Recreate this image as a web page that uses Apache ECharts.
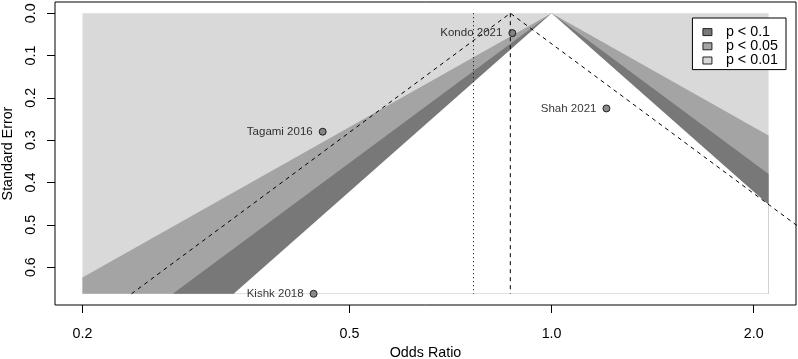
<!DOCTYPE html>
<html>
<head>
<meta charset="utf-8">
<script src="https://cdn.jsdelivr.net/npm/echarts@6/dist/echarts.min.js"></script>
<style>
  html, body { margin: 0; padding: 0; background: #fff; }
  #funnel { width: 798px; height: 359px; }
</style>
</head>
<body>
<div id="funnel"></div>
<script>
// studies (odds ratio, standard error)
const studyNames = ['Kondo 2021', 'Shah 2021', 'Tagami 2016', 'Kishk 2018']
const studyOR = [0.874, 1.207, 0.456, 0.442]
const studySE = [0.047, 0.225, 0.280, 0.663]

// contour levels, from inner to outer
const contourNames = ['p < 0.1', 'p < 0.05', 'p < 0.01']
const contourZ = [1.645, 1.960, 2.576]

// pooled estimate (dashed) and adjusted estimate (dotted)
const pooledOR = 0.868
const adjustedOR = 0.765
const pseudoZ = 1.96

// shaded area extent
const orRange = [0.2, 2.105]
const seMax = 0.663

// axes
const xTickValues = [0.2, 0.5, 1.0, 2.0]
const xTickLabels = ['0.2', '0.5', '1.0', '2.0']
const yTickValues = [0, 0.1, 0.2, 0.3, 0.4, 0.5, 0.6]
const yTickLabels = ['0.0', '0.1', '0.2', '0.3', '0.4', '0.5', '0.6']

const FONT = '"Liberation Sans", Arial, sans-serif'
const lnL = Math.log(orRange[0])
const lnR = Math.log(orRange[1])
const xPad = (lnR - lnL) * 0.04
const yPad = seMax * 0.04

// funnel around OR = 1 (ln = 0), cut to the shaded rectangle
function funnelPoly(z) {
  let pts = [[0, 0]]
  if (z * seMax > lnR) pts.push([lnR, lnR / z], [lnR, seMax])
  else pts.push([z * seMax, seMax])
  if (-z * seMax < lnL) pts.push([lnL, seMax], [lnL, -lnL / z])
  else pts.push([-z * seMax, seMax])
  return pts
}

function areaSeries(name, pts, color) {
  return {
    type: 'custom',
    name: name,
    data: [pts[0]],
    silent: true,
    animation: false,
    itemStyle: { color: color },
    encode: { x: 0, y: 1 },
    renderItem: (params, api) => ({
      type: 'polygon',
      shape: { points: pts.map(p => api.coord(p)) },
      style: { fill: color, stroke: null }
    })
  }
}

const shapes = [
  [[lnL, 0], [lnR, 0], [lnR, seMax], [lnL, seMax]],
  funnelPoly(contourZ[2]),
  funnelPoly(contourZ[1]),
  funnelPoly(contourZ[0])
]
const fills = ['#d9d9d9', '#a4a4a4', '#787878', '#ffffff']
const shapeNames = [contourNames[2], contourNames[1], contourNames[0], 'inner']

const lnPooled = Math.log(pooledOR)
const lnAdj = Math.log(adjustedOR)

let chart = echarts.init(document.getElementById('funnel'))

let options = {
  animation: false,
  textStyle: { fontFamily: FONT },
  grid: {
    left: 55, right: 2, top: 2, bottom: 54,
    containLabel: false,
    outerBoundsMode: 'none',
    show: true, borderColor: '#000', borderWidth: 1,
    backgroundColor: 'transparent'
  },
  legend: {
    orient: 'vertical',
    right: 12,
    top: 18,
    selectedMode: false,
    backgroundColor: '#fff',
    borderColor: '#000',
    borderWidth: 1,
    borderRadius: 0,
    padding: [7, 8, 2, 10],
    itemWidth: 9,
    itemHeight: 7,
    itemGap: 0,
    icon: 'rect',
    textStyle: { fontSize: 14.3, color: '#000', fontFamily: FONT, lineHeight: 14.2, padding: [0, 0, 0, 9] },
    data: contourNames.map((n, i) => ({
      name: n,
      itemStyle: { color: [fills[2], fills[1], fills[0]][i], borderColor: '#222', borderWidth: 1 }
    }))
  },
  xAxis: {
    type: 'value',
    min: lnL - xPad,
    max: lnR + xPad,
    name: 'Odds Ratio',
    nameLocation: 'middle',
    nameGap: 39.5,
    nameTextStyle: { fontSize: 14.3, color: '#000', fontFamily: FONT },
    axisLine: { show: false, onZero: false },
    splitLine: { show: false },
    axisTick: {
      show: true, inside: false, length: 8,
      lineStyle: { color: '#000', width: 1 },
      customValues: xTickValues.map(v => Math.log(v))
    },
    axisLabel: {
      show: true, margin: 22, fontSize: 14.3, color: '#000', fontFamily: FONT,
      customValues: xTickValues.map(v => Math.log(v)),
      formatter: v => {
        let i = xTickValues.findIndex(t => Math.abs(Math.log(t) - v) < 1e-6)
        return i >= 0 ? xTickLabels[i] : ''
      }
    }
  },
  yAxis: {
    type: 'value',
    inverse: true,
    min: -yPad,
    max: seMax + yPad,
    name: 'Standard Error',
    nameLocation: 'middle',
    nameGap: 40,
    nameRotate: 90,
    nameTextStyle: { fontSize: 14.3, color: '#000', fontFamily: FONT },
    axisLine: { show: false, onZero: false },
    splitLine: { show: false },
    axisTick: {
      show: true, inside: false, length: 8,
      lineStyle: { color: '#000', width: 1 },
      customValues: yTickValues
    },
    axisLabel: {
      show: true, margin: 17, rotate: 90, fontSize: 14.3, color: '#000', fontFamily: FONT,
      customValues: yTickValues,
      formatter: v => {
        let i = yTickValues.findIndex(t => Math.abs(t - v) < 1e-6)
        return i >= 0 ? yTickLabels[i] : ''
      }
    }
  },
  series: [
    ...shapes.map((pts, i) => areaSeries(shapeNames[i], pts, fills[i])),
    {
      type: 'line',
      name: 'pseudo CI',
      data: [
        [lnPooled - pseudoZ * seMax, seMax],
        [lnPooled, 0],
        [lnPooled + pseudoZ * seMax, seMax]
      ],
      symbol: 'none',
      clip: true,
      silent: true,
      lineStyle: { color: '#000', width: 1, type: [4, 4] }
    },
    {
      type: 'line',
      name: 'pooled',
      data: [[lnPooled, 0], [lnPooled, seMax]],
      symbol: 'none',
      silent: true,
      lineStyle: { color: '#000', width: 1, type: [4, 4] }
    },
    {
      type: 'line',
      name: 'adjusted',
      data: [[lnAdj, 0], [lnAdj, seMax]],
      symbol: 'none',
      silent: true,
      lineStyle: { color: '#000', width: 1, type: [1, 3] }
    },
    {
      type: 'scatter',
      name: 'studies',
      data: studyNames.map((n, i) => [Math.log(studyOR[i]), studySE[i], n]),
      symbol: 'circle',
      symbolSize: 7,
      itemStyle: { color: '#6e6e6e', borderColor: '#000', borderWidth: 1 },
      label: {
        show: true,
        position: 'left',
        distance: 6,
        fontSize: 11.5,
        color: '#000',
        fontFamily: FONT,
        formatter: p => p.data[2]
      },
      z: 5
    }
  ]
}
options && chart.setOption(options)
</script>
</body>
</html>
